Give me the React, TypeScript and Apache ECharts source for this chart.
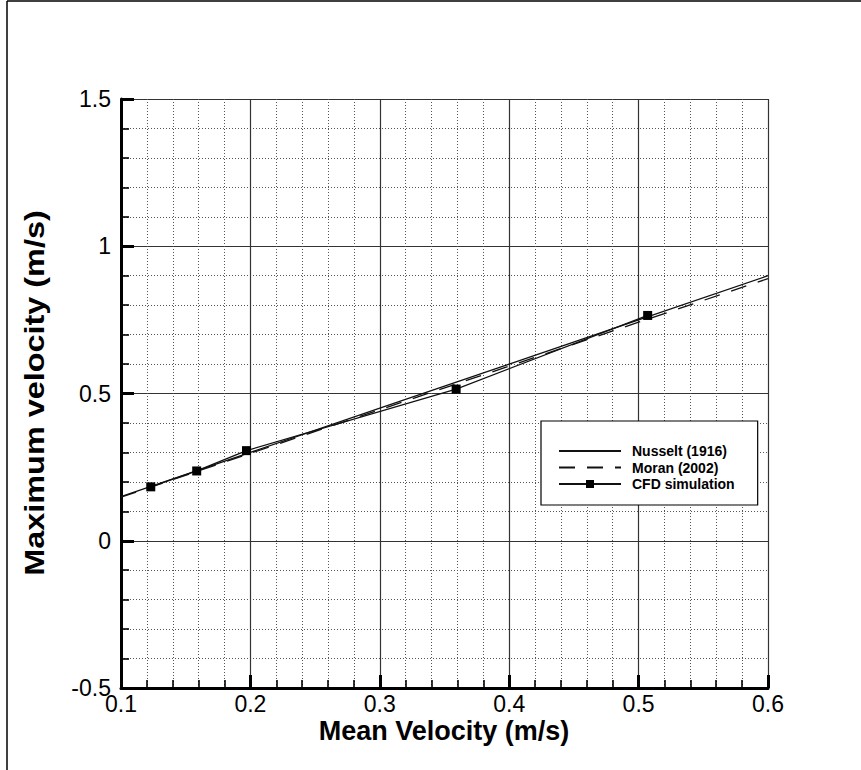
import React, { useEffect, useRef } from "react";
import * as echarts from "echarts";

const xTicks = [0.1, 0.2, 0.3, 0.4, 0.5, 0.6];
const nusseltVmax = [0.15, 0.3, 0.45, 0.6, 0.75, 0.9];
const moranVmax = [0.148, 0.297, 0.445, 0.593, 0.742, 0.89];
const cfdMean = [0.123, 0.1585, 0.197, 0.359, 0.507];
const cfdMax = [0.183, 0.237, 0.306, 0.515, 0.765];
const seriesNames = ["Nusselt (1916)", "Moran (2002)", "CFD simulation"];
const xTitle = "Mean Velocity (m/s)";
const yTitle = "Maximum velocity (m/s)";

const FONT = "'Liberation Sans', Arial, Helvetica, sans-serif";

function fmt(v: number) {
  return String(parseFloat(v.toFixed(2)));
}

export default function App() {
  const ref = useRef<HTMLDivElement>(null);
  useEffect(() => {
    if (!ref.current) return;
    const chart = echarts.init(ref.current, null, { renderer: "svg" });
    const axisCommon = {
      axisLine: { show: true, onZero: false, lineStyle: { color: "#000", width: 3 } },
      axisTick: { show: true, inside: true, length: 13, lineStyle: { color: "#000", width: 3 } },
      minorTick: { show: true, splitNumber: 5, length: 8, lineStyle: { color: "#000", width: 1.6 } },
      splitLine: { show: true, lineStyle: { color: "#333", width: 1.2 } },
      minorSplitLine: { show: true, lineStyle: { color: "#555", width: 1, type: [1, 2] } },
    };
    const labelCommon = {
      show: true,
      showMinLabel: true,
      showMaxLabel: true,
      color: "#000",
      fontSize: 23,
      fontFamily: FONT,
      formatter: (v: number) => fmt(v),
    };
    chart.setOption({
      animation: false,
      backgroundColor: "#fff",
      grid: { left: 121, top: 99, right: 93, bottom: 82, containLabel: false },
      xAxis: {
        type: "value",
        min: 0.1,
        max: 0.6,
        interval: 0.1,
        ...axisCommon,
        axisLabel: { ...labelCommon, margin: 4 },
      },
      yAxis: {
        type: "value",
        min: -0.5,
        max: 1.5,
        interval: 0.5,
        ...axisCommon,
        axisLabel: { ...labelCommon, margin: 10 },
      },
      legend: {
        show: true,
        orient: "vertical",
        left: 541,
        top: 421,
        width: 180,
        padding: [23, 23, 14, 17],
        backgroundColor: "#fff",
        borderColor: "#000",
        borderWidth: 1.2,
        borderRadius: 0,
        itemWidth: 62,
        itemHeight: 10,
        itemGap: 2.5,
        data: [
          { name: seriesNames[0], itemStyle: { opacity: 0 } },
          { name: seriesNames[1], itemStyle: { opacity: 0 } },
          { name: seriesNames[2] },
        ],
        textStyle: {
          color: "#000",
          fontSize: 14,
          lineHeight: 14,
          fontWeight: "bold",
          fontFamily: FONT,
          padding: [0, 0, 0, 6],
        },
      },
      series: [
        {
          name: seriesNames[0],
          type: "line",
          data: xTicks.map((x, i) => [x, nusseltVmax[i]]),
          showSymbol: false,
          symbol: "none",
          lineStyle: { color: "#111", width: 1.3 },
          itemStyle: { color: "#111" },
          z: 3,
        },
        {
          name: seriesNames[1],
          type: "line",
          data: xTicks.map((x, i) => [x, moranVmax[i]]),
          showSymbol: false,
          symbol: "none",
          lineStyle: { color: "#111", width: 1.3, type: [16, 12] },
          itemStyle: { color: "#111" },
          z: 3,
        },
        {
          name: seriesNames[2],
          type: "line",
          data: cfdMean.map((x, i) => [x, cfdMax[i]]),
          symbol: "rect",
          symbolSize: 9,
          showSymbol: true,
          lineStyle: { color: "#111", width: 1.3 },
          itemStyle: { color: "#000" },
          z: 4,
        },
      ],
      graphic: [
        {
          type: "line",
          shape: { x1: 7, y1: 1, x2: 861, y2: 1 },
          style: { stroke: "#000", lineWidth: 1.5 },
        },
        {
          type: "line",
          shape: { x1: 7, y1: 1, x2: 7, y2: 770 },
          style: { stroke: "#000", lineWidth: 1.5 },
        },
        {
          type: "text",
          x: 444,
          y: 731,
          style: {
            text: xTitle,
            fill: "#000",
            font: `bold 27px ${FONT}`,
            align: "center",
            verticalAlign: "middle",
          },
        },
        {
          type: "text",
          x: 34,
          y: 393,
          rotation: Math.PI / 2,
          scaleX: 1.2,
          style: {
            text: yTitle,
            fill: "#000",
            font: `bold 27px ${FONT}`,
            align: "center",
            verticalAlign: "middle",
          },
        },
      ],
    });
    return () => chart.dispose();
  }, []);
  return (
    <div
      ref={ref}
      style={{ position: "fixed", left: 0, top: 0, width: 861, height: 770, background: "#fff" }}
    />
  );
}
